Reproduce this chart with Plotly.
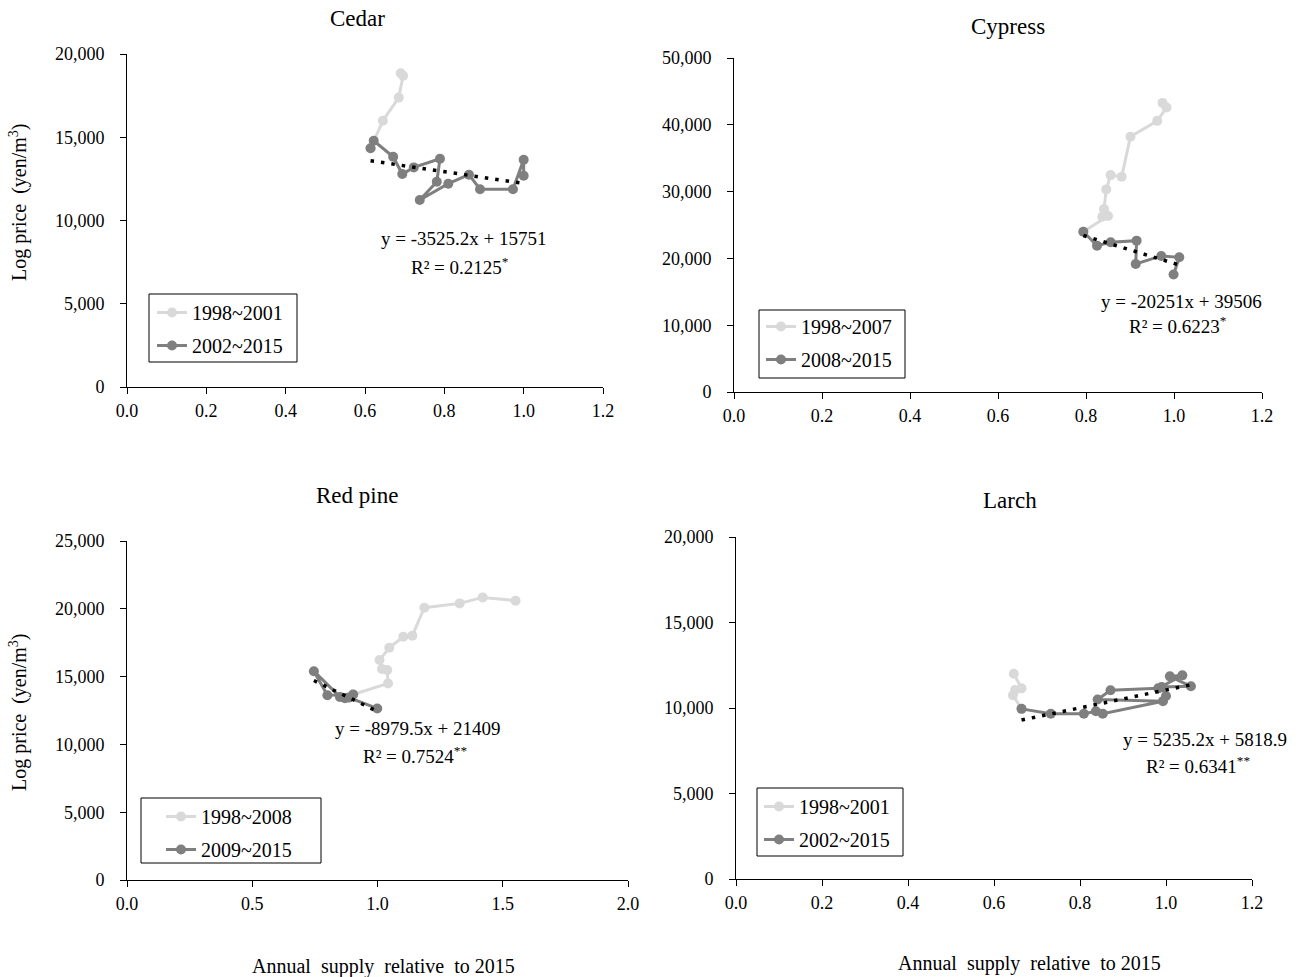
import plotly.graph_objects as go

W, H = 1301, 977
FONT = "Liberation Serif"
LIGHT = "#d9d9d9"
DARK = "#7f7f7f"

# ---------------- data ----------------
cedar_early_x = [0.690, 0.696, 0.685, 0.645, 0.614]
cedar_early_y = [18840, 18690, 17380, 15990, 14340]
cedar_late_x = [0.614, 0.622, 0.671, 0.694, 0.723, 0.789, 0.781, 0.738, 0.810, 0.862, 0.890, 0.973, 1.000, 1.000]
cedar_late_y = [14340, 14790, 13830, 12790, 13190, 13710, 12330, 11230, 12210, 12750, 11880, 11880, 13650, 12690]

cypress_early_x = [0.974, 0.983, 0.962, 0.901, 0.881, 0.856, 0.846, 0.841, 0.837, 0.850, 0.794]
cypress_early_y = [43280, 42580, 40590, 38200, 32220, 32470, 30330, 27390, 26240, 26340, 24000]
cypress_late_x = [0.794, 0.825, 0.856, 0.915, 0.913, 0.971, 1.012, 0.999]
cypress_late_y = [24000, 21910, 22410, 22660, 19170, 20370, 20170, 17580]

redpine_early_x = [1.551, 1.420, 1.328, 1.187, 1.139, 1.103, 1.047, 1.008, 1.018, 1.039, 1.042, 0.903]
redpine_early_y = [20600, 20840, 20400, 20080, 18020, 17940, 17130, 16220, 15560, 15490, 14500, 13680]
redpine_late_x = [0.903, 0.800, 0.746, 0.850, 0.870, 0.885, 0.999]
redpine_late_y = [13680, 13630, 15400, 13500, 13400, 13450, 12650]

larch_early_x = [0.646, 0.664, 0.649, 0.644, 0.664]
larch_early_y = [12000, 11150, 11050, 10750, 9950]
larch_late_x = [0.664, 0.732, 0.809, 0.837, 0.853, 0.993, 0.841, 0.871, 0.982, 1.038, 1.009, 1.058, 0.990, 1.000]
larch_late_y = [9950, 9660, 9660, 9810, 9660, 10400, 10500, 11040, 11150, 11910, 11850, 11270, 11230, 10700]

panel_titles = ["Cedar", "Cypress", "Red pine", "Larch"]
early_labels = ["1998~2001", "1998~2007", "1998~2008", "1998~2001"]
late_labels = ["2002~2015", "2008~2015", "2009~2015", "2002~2015"]
trend_slopes = [-3525.2, -20251, -8979.5, 5235.2]
trend_intercepts = [15751, 39506, 21409, 5818.9]
eq_texts = ["y = -3525.2x + 15751", "y = -20251x + 39506", "y = -8979.5x + 21409", "y = 5235.2x + 5818.9"]
r2_texts = ["R² = 0.2125<sup>*</sup>", "R² = 0.6223<sup>*</sup>", "R² = 0.7524<sup>**</sup>", "R² = 0.6341<sup>**</sup>"]
y_ranges = [[0, 20000], [0, 50000], [0, 25000], [0, 20000]]
y_dticks = [5000, 10000, 5000, 5000]
x_ranges = [[0, 1.2], [0, 1.2], [0, 2.0], [0, 1.2]]
x_dticks = [0.2, 0.2, 0.5, 0.2]

# ---------------- layout geometry (pixels) ----------------
# (x_left, x_right, y_top, y_bottom)
boxes = [(127, 603, 54, 387), (734, 1262, 58, 392), (127, 628, 541, 880), (736, 1252, 537, 879)]
title_pos = [(357, 18), (1008, 27), (357, 496), (1010, 500)]
eq_pos = [(464, 238), (1181, 302), (418, 728), (1205, 739)]
r2_pos = [(460, 266), (1178, 325), (415, 755), (1198, 765)]
legend_pos = [(152, 293), (761, 307), (161, 797), (759, 787)]
legend_frames = [(149, 297, 294, 362), (759, 905, 310, 378), (141, 321, 798, 863), (757, 903, 788, 856)]
ytitle_pos = [(18, 202), (18, 712)]
xtitle_pos = [(384, 966), (1029, 963)]

def px(x):
    return x / W

def py(y):
    return 1 - y / H

panels_early = [(cedar_early_x, cedar_early_y), (cypress_early_x, cypress_early_y),
                (redpine_early_x, redpine_early_y), (larch_early_x, larch_early_y)]
panels_late = [(cedar_late_x, cedar_late_y), (cypress_late_x, cypress_late_y),
               (redpine_late_x, redpine_late_y), (larch_late_x, larch_late_y)]

fig = go.Figure()
layout = dict(width=W, height=H, margin=dict(l=0, r=0, t=0, b=0, pad=0, autoexpand=False),
              autosize=False,
              paper_bgcolor="white", plot_bgcolor="white",
              font=dict(family=FONT, size=18, color="black"),
              annotations=[], shapes=[])

def ann(text, x, y, size, angle=0):
    return dict(text=text, x=px(x), y=py(y), xref="paper", yref="paper", showarrow=False,
                xanchor="center", yanchor="middle", textangle=angle,
                font=dict(family=FONT, size=size, color="black"))

for i in range(4):
    n = "" if i == 0 else str(i + 1)
    xa, ya = "x" + n, "y" + n
    leg = "legend" + n
    ex, ey = panels_early[i]
    lx, ly = panels_late[i]
    fig.add_trace(go.Scatter(x=ex, y=ey, mode="lines+markers", name=early_labels[i],
                             line=dict(color=LIGHT, width=3), marker=dict(color=LIGHT, size=10),
                             xaxis=xa, yaxis=ya, legend=leg, legendgroup="e" + n))
    fig.add_trace(go.Scatter(x=lx, y=ly, mode="lines+markers", name=late_labels[i],
                             line=dict(color=DARK, width=3), marker=dict(color=DARK, size=10),
                             xaxis=xa, yaxis=ya, legend=leg, legendgroup="l" + n))
    tx = [min(lx), max(lx)]
    ty = [trend_slopes[i] * v + trend_intercepts[i] for v in tx]
    fig.add_trace(go.Scatter(x=tx, y=ty, mode="lines", showlegend=False,
                             line=dict(color="black", width=3.5, dash="3.5px,7px"),
                             xaxis=xa, yaxis=ya))

    x0, x1, y0, y1 = boxes[i]
    layout["xaxis" + n] = dict(domain=[px(x0), px(x1)], range=x_ranges[i], dtick=x_dticks[i],
                               tick0=0, tickformat=".1f", showgrid=False, zeroline=False,
                               showline=True, linecolor="black", linewidth=1,
                               ticks="outside", ticklen=6, tickcolor="black",
                               ticklabelstandoff=1, anchor=ya, automargin=False,
                               tickfont=dict(family=FONT, size=18))
    layout["yaxis" + n] = dict(domain=[py(y1), py(y0)], range=y_ranges[i], dtick=y_dticks[i],
                               tick0=0, tickformat=",d", showgrid=False, zeroline=False,
                               showline=True, linecolor="black", linewidth=1,
                               ticks="outside", ticklen=6, tickcolor="black",
                               ticklabelstandoff=12, anchor=xa, automargin=False,
                               tickfont=dict(family=FONT, size=18))
    lxp, lyp = legend_pos[i]
    layout[leg] = dict(x=px(lxp), y=py(lyp), xanchor="left", yanchor="top",
                       xref="paper", yref="paper",
                       borderwidth=0, bgcolor="rgba(0,0,0,0)",
                       font=dict(family=FONT, size=20), tracegroupgap=4,
                       itemwidth=30, traceorder="grouped")
    fx0, fx1, fy0, fy1 = legend_frames[i]
    layout["shapes"].append(dict(type="rect", xref="paper", yref="paper",
                                 x0=px(fx0), x1=px(fx1), y0=py(fy1), y1=py(fy0),
                                 line=dict(color="black", width=1), fillcolor="white",
                                 layer="above"))

    tpx, tpy = title_pos[i]
    layout["annotations"].append(ann(panel_titles[i], tpx, tpy, 23))
    epx, epy = eq_pos[i]
    layout["annotations"].append(ann(eq_texts[i], epx, epy, 19))
    rpx, rpy = r2_pos[i]
    layout["annotations"].append(ann(r2_texts[i], rpx, rpy, 19))

for (x, y) in ytitle_pos:
    layout["annotations"].append(ann("Log price  (yen/m<sup>3</sup>)", x, y, 20, angle=-90))
for (x, y) in xtitle_pos:
    layout["annotations"].append(ann("Annual  supply  relative  to 2015", x, y, 20))

fig.update_layout(**layout)
fig.write_html("out.html", config={"displayModeBar": False},
               post_script="document.body.style.margin='0px';document.body.style.overflow='hidden';")
